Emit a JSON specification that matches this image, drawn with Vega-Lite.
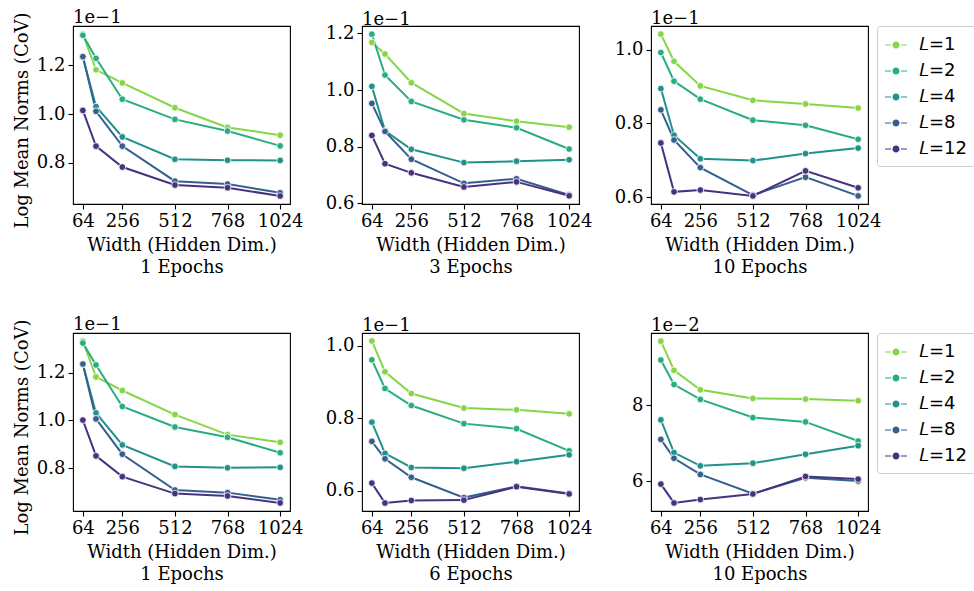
{
  "$schema": "https://vega.github.io/schema/vega-lite/v6.json",
  "autosize": {"type": "pad"},
  "padding": {"left": 12, "top": 8, "right": 0, "bottom": 0},
  "background": "white",
  "config": {
    "font": "DejaVu Serif",
    "view": {"stroke": "black", "strokeWidth": 1.1},
    "axis": {
      "domain": false, "grid": false,
      "tickColor": "black", "tickWidth": 1.1, "tickSize": 5,
      "labelFont": "DejaVu Serif", "labelFontSize": 18, "labelColor": "black",
      "labelPadding": 3,
      "titleFont": "DejaVu Serif", "titleFontSize": 18, "titleFontWeight": "normal", "titleColor": "black",
      "titleLineHeight": 22
    },
    "axisX": {"titlePadding": 6, "format": "d"},
    "axisY": {"titlePadding": 5},
    "title": {"font": "DejaVu Serif", "fontSize": 18, "fontWeight": "normal", "anchor": "start", "frame": "group", "color": "black", "offset": -2},
    "legend": {
      "title": null,
      "labelFont": "DejaVu Sans", "labelFontSize": 18, "labelColor": "black",
      "symbolType": "M-1,-0.055H-0.45V0.055H-1Z M0.32,0A0.32,0.32 0 1,1 -0.32,0A0.32,0.32 0 1,1 0.32,0Z M0.45,-0.055H1V0.055H0.45Z",
      "symbolSize": 484, "symbolStrokeWidth": 0,
      "rowPadding": 6, "padding": 8, "offset": -5,
      "strokeColor": "#cccccc", "cornerRadius": 3, "fillColor": "white",
      "labelOffset": 12
    }
  },
  "datasets": {
    "cov": [
      {"panel": "a", "L": "L=1", "width": 64, "cov": 0.1329}, {"panel": "a", "L": "L=1", "width": 128, "cov": 0.1182}, {"panel": "a", "L": "L=1", "width": 256, "cov": 0.1128}, {"panel": "a", "L": "L=1", "width": 512, "cov": 0.1026}, {"panel": "a", "L": "L=1", "width": 768, "cov": 0.0945}, {"panel": "a", "L": "L=1", "width": 1024, "cov": 0.0913},
      {"panel": "a", "L": "L=2", "width": 64, "cov": 0.1324}, {"panel": "a", "L": "L=2", "width": 128, "cov": 0.1229}, {"panel": "a", "L": "L=2", "width": 256, "cov": 0.1061}, {"panel": "a", "L": "L=2", "width": 512, "cov": 0.0978}, {"panel": "a", "L": "L=2", "width": 768, "cov": 0.0930}, {"panel": "a", "L": "L=2", "width": 1024, "cov": 0.0869},
      {"panel": "a", "L": "L=4", "width": 64, "cov": 0.1235}, {"panel": "a", "L": "L=4", "width": 128, "cov": 0.1031}, {"panel": "a", "L": "L=4", "width": 256, "cov": 0.0906}, {"panel": "a", "L": "L=4", "width": 512, "cov": 0.0814}, {"panel": "a", "L": "L=4", "width": 768, "cov": 0.0810}, {"panel": "a", "L": "L=4", "width": 1024, "cov": 0.0809},
      {"panel": "a", "L": "L=8", "width": 64, "cov": 0.1236}, {"panel": "a", "L": "L=8", "width": 128, "cov": 0.1011}, {"panel": "a", "L": "L=8", "width": 256, "cov": 0.0868}, {"panel": "a", "L": "L=8", "width": 512, "cov": 0.0724}, {"panel": "a", "L": "L=8", "width": 768, "cov": 0.0712}, {"panel": "a", "L": "L=8", "width": 1024, "cov": 0.0676},
      {"panel": "a", "L": "L=12", "width": 64, "cov": 0.1015}, {"panel": "a", "L": "L=12", "width": 128, "cov": 0.0868}, {"panel": "a", "L": "L=12", "width": 256, "cov": 0.0782}, {"panel": "a", "L": "L=12", "width": 512, "cov": 0.0708}, {"panel": "a", "L": "L=12", "width": 768, "cov": 0.0697}, {"panel": "a", "L": "L=12", "width": 1024, "cov": 0.0663},

      {"panel": "b", "L": "L=1", "width": 64, "cov": 0.1168}, {"panel": "b", "L": "L=1", "width": 128, "cov": 0.1127}, {"panel": "b", "L": "L=1", "width": 256, "cov": 0.1026}, {"panel": "b", "L": "L=1", "width": 512, "cov": 0.0917}, {"panel": "b", "L": "L=1", "width": 768, "cov": 0.0890}, {"panel": "b", "L": "L=1", "width": 1024, "cov": 0.0869},
      {"panel": "b", "L": "L=2", "width": 64, "cov": 0.1197}, {"panel": "b", "L": "L=2", "width": 128, "cov": 0.1053}, {"panel": "b", "L": "L=2", "width": 256, "cov": 0.0960}, {"panel": "b", "L": "L=2", "width": 512, "cov": 0.0895}, {"panel": "b", "L": "L=2", "width": 768, "cov": 0.0867}, {"panel": "b", "L": "L=2", "width": 1024, "cov": 0.0792},
      {"panel": "b", "L": "L=4", "width": 64, "cov": 0.1013}, {"panel": "b", "L": "L=4", "width": 128, "cov": 0.0856}, {"panel": "b", "L": "L=4", "width": 256, "cov": 0.0791}, {"panel": "b", "L": "L=4", "width": 512, "cov": 0.0744}, {"panel": "b", "L": "L=4", "width": 768, "cov": 0.0749}, {"panel": "b", "L": "L=4", "width": 1024, "cov": 0.0754},
      {"panel": "b", "L": "L=8", "width": 64, "cov": 0.0953}, {"panel": "b", "L": "L=8", "width": 128, "cov": 0.0854}, {"panel": "b", "L": "L=8", "width": 256, "cov": 0.0756}, {"panel": "b", "L": "L=8", "width": 512, "cov": 0.0671}, {"panel": "b", "L": "L=8", "width": 768, "cov": 0.0687}, {"panel": "b", "L": "L=8", "width": 1024, "cov": 0.0630},
      {"panel": "b", "L": "L=12", "width": 64, "cov": 0.0840}, {"panel": "b", "L": "L=12", "width": 128, "cov": 0.0740}, {"panel": "b", "L": "L=12", "width": 256, "cov": 0.0708}, {"panel": "b", "L": "L=12", "width": 512, "cov": 0.0658}, {"panel": "b", "L": "L=12", "width": 768, "cov": 0.0676}, {"panel": "b", "L": "L=12", "width": 1024, "cov": 0.0627},

      {"panel": "c", "L": "L=1", "width": 64, "cov": 0.1043}, {"panel": "c", "L": "L=1", "width": 128, "cov": 0.0969}, {"panel": "c", "L": "L=1", "width": 256, "cov": 0.0902}, {"panel": "c", "L": "L=1", "width": 512, "cov": 0.0863}, {"panel": "c", "L": "L=1", "width": 768, "cov": 0.0853}, {"panel": "c", "L": "L=1", "width": 1024, "cov": 0.0842},
      {"panel": "c", "L": "L=2", "width": 64, "cov": 0.0993}, {"panel": "c", "L": "L=2", "width": 128, "cov": 0.0915}, {"panel": "c", "L": "L=2", "width": 256, "cov": 0.0866}, {"panel": "c", "L": "L=2", "width": 512, "cov": 0.0809}, {"panel": "c", "L": "L=2", "width": 768, "cov": 0.0795}, {"panel": "c", "L": "L=2", "width": 1024, "cov": 0.0757},
      {"panel": "c", "L": "L=4", "width": 64, "cov": 0.0895}, {"panel": "c", "L": "L=4", "width": 128, "cov": 0.0768}, {"panel": "c", "L": "L=4", "width": 256, "cov": 0.0704}, {"panel": "c", "L": "L=4", "width": 512, "cov": 0.0699}, {"panel": "c", "L": "L=4", "width": 768, "cov": 0.0718}, {"panel": "c", "L": "L=4", "width": 1024, "cov": 0.0733},
      {"panel": "c", "L": "L=8", "width": 64, "cov": 0.0837}, {"panel": "c", "L": "L=8", "width": 128, "cov": 0.0755}, {"panel": "c", "L": "L=8", "width": 256, "cov": 0.0680}, {"panel": "c", "L": "L=8", "width": 512, "cov": 0.0605}, {"panel": "c", "L": "L=8", "width": 768, "cov": 0.0654}, {"panel": "c", "L": "L=8", "width": 1024, "cov": 0.0603},
      {"panel": "c", "L": "L=12", "width": 64, "cov": 0.0747}, {"panel": "c", "L": "L=12", "width": 128, "cov": 0.0614}, {"panel": "c", "L": "L=12", "width": 256, "cov": 0.0619}, {"panel": "c", "L": "L=12", "width": 512, "cov": 0.0603}, {"panel": "c", "L": "L=12", "width": 768, "cov": 0.0671}, {"panel": "c", "L": "L=12", "width": 1024, "cov": 0.0625},

      {"panel": "d", "L": "L=1", "width": 64, "cov": 0.1332}, {"panel": "d", "L": "L=1", "width": 128, "cov": 0.1182}, {"panel": "d", "L": "L=1", "width": 256, "cov": 0.1125}, {"panel": "d", "L": "L=1", "width": 512, "cov": 0.1024}, {"panel": "d", "L": "L=1", "width": 768, "cov": 0.0940}, {"panel": "d", "L": "L=1", "width": 1024, "cov": 0.0908},
      {"panel": "d", "L": "L=2", "width": 64, "cov": 0.1324}, {"panel": "d", "L": "L=2", "width": 128, "cov": 0.1232}, {"panel": "d", "L": "L=2", "width": 256, "cov": 0.1058}, {"panel": "d", "L": "L=2", "width": 512, "cov": 0.0972}, {"panel": "d", "L": "L=2", "width": 768, "cov": 0.0929}, {"panel": "d", "L": "L=2", "width": 1024, "cov": 0.0864},
      {"panel": "d", "L": "L=4", "width": 64, "cov": 0.1235}, {"panel": "d", "L": "L=4", "width": 128, "cov": 0.1031}, {"panel": "d", "L": "L=4", "width": 256, "cov": 0.0897}, {"panel": "d", "L": "L=4", "width": 512, "cov": 0.0807}, {"panel": "d", "L": "L=4", "width": 768, "cov": 0.0801}, {"panel": "d", "L": "L=4", "width": 1024, "cov": 0.0803},
      {"panel": "d", "L": "L=8", "width": 64, "cov": 0.1236}, {"panel": "d", "L": "L=8", "width": 128, "cov": 0.1006}, {"panel": "d", "L": "L=8", "width": 256, "cov": 0.0858}, {"panel": "d", "L": "L=8", "width": 512, "cov": 0.0708}, {"panel": "d", "L": "L=8", "width": 768, "cov": 0.0697}, {"panel": "d", "L": "L=8", "width": 1024, "cov": 0.0667},
      {"panel": "d", "L": "L=12", "width": 64, "cov": 0.1001}, {"panel": "d", "L": "L=12", "width": 128, "cov": 0.0851}, {"panel": "d", "L": "L=12", "width": 256, "cov": 0.0764}, {"panel": "d", "L": "L=12", "width": 512, "cov": 0.0693}, {"panel": "d", "L": "L=12", "width": 768, "cov": 0.0683}, {"panel": "d", "L": "L=12", "width": 1024, "cov": 0.0654},

      {"panel": "e", "L": "L=1", "width": 64, "cov": 0.1013}, {"panel": "e", "L": "L=1", "width": 128, "cov": 0.0928}, {"panel": "e", "L": "L=1", "width": 256, "cov": 0.0868}, {"panel": "e", "L": "L=1", "width": 512, "cov": 0.0828}, {"panel": "e", "L": "L=1", "width": 768, "cov": 0.0823}, {"panel": "e", "L": "L=1", "width": 1024, "cov": 0.0812},
      {"panel": "e", "L": "L=2", "width": 64, "cov": 0.0961}, {"panel": "e", "L": "L=2", "width": 128, "cov": 0.0882}, {"panel": "e", "L": "L=2", "width": 256, "cov": 0.0835}, {"panel": "e", "L": "L=2", "width": 512, "cov": 0.0785}, {"panel": "e", "L": "L=2", "width": 768, "cov": 0.0771}, {"panel": "e", "L": "L=2", "width": 1024, "cov": 0.0710},
      {"panel": "e", "L": "L=4", "width": 64, "cov": 0.0789}, {"panel": "e", "L": "L=4", "width": 128, "cov": 0.0703}, {"panel": "e", "L": "L=4", "width": 256, "cov": 0.0664}, {"panel": "e", "L": "L=4", "width": 512, "cov": 0.0662}, {"panel": "e", "L": "L=4", "width": 768, "cov": 0.0680}, {"panel": "e", "L": "L=4", "width": 1024, "cov": 0.0699},
      {"panel": "e", "L": "L=8", "width": 64, "cov": 0.0736}, {"panel": "e", "L": "L=8", "width": 128, "cov": 0.0688}, {"panel": "e", "L": "L=8", "width": 256, "cov": 0.0637}, {"panel": "e", "L": "L=8", "width": 512, "cov": 0.0581}, {"panel": "e", "L": "L=8", "width": 768, "cov": 0.0612}, {"panel": "e", "L": "L=8", "width": 1024, "cov": 0.0592},
      {"panel": "e", "L": "L=12", "width": 64, "cov": 0.0621}, {"panel": "e", "L": "L=12", "width": 128, "cov": 0.0566}, {"panel": "e", "L": "L=12", "width": 256, "cov": 0.0573}, {"panel": "e", "L": "L=12", "width": 512, "cov": 0.0574}, {"panel": "e", "L": "L=12", "width": 768, "cov": 0.0611}, {"panel": "e", "L": "L=12", "width": 1024, "cov": 0.0591},

      {"panel": "f", "L": "L=1", "width": 64, "cov": 0.09694}, {"panel": "f", "L": "L=1", "width": 128, "cov": 0.08926}, {"panel": "f", "L": "L=1", "width": 256, "cov": 0.08411}, {"panel": "f", "L": "L=1", "width": 512, "cov": 0.08183}, {"panel": "f", "L": "L=1", "width": 768, "cov": 0.08166}, {"panel": "f", "L": "L=1", "width": 1024, "cov": 0.08122},
      {"panel": "f", "L": "L=2", "width": 64, "cov": 0.09197}, {"panel": "f", "L": "L=2", "width": 128, "cov": 0.08550}, {"panel": "f", "L": "L=2", "width": 256, "cov": 0.08157}, {"panel": "f", "L": "L=2", "width": 512, "cov": 0.07677}, {"panel": "f", "L": "L=2", "width": 768, "cov": 0.07563}, {"panel": "f", "L": "L=2", "width": 1024, "cov": 0.07057},
      {"panel": "f", "L": "L=4", "width": 64, "cov": 0.07616}, {"panel": "f", "L": "L=4", "width": 128, "cov": 0.06751}, {"panel": "f", "L": "L=4", "width": 256, "cov": 0.06402}, {"panel": "f", "L": "L=4", "width": 512, "cov": 0.06472}, {"panel": "f", "L": "L=4", "width": 768, "cov": 0.06707}, {"panel": "f", "L": "L=4", "width": 1024, "cov": 0.06934},
      {"panel": "f", "L": "L=8", "width": 64, "cov": 0.07100}, {"panel": "f", "L": "L=8", "width": 128, "cov": 0.06603}, {"panel": "f", "L": "L=8", "width": 256, "cov": 0.06175}, {"panel": "f", "L": "L=8", "width": 512, "cov": 0.05668}, {"panel": "f", "L": "L=8", "width": 768, "cov": 0.06087}, {"panel": "f", "L": "L=8", "width": 1024, "cov": 0.06000},
      {"panel": "f", "L": "L=12", "width": 64, "cov": 0.05921}, {"panel": "f", "L": "L=12", "width": 128, "cov": 0.05423}, {"panel": "f", "L": "L=12", "width": 256, "cov": 0.05511}, {"panel": "f", "L": "L=12", "width": 512, "cov": 0.05659}, {"panel": "f", "L": "L=12", "width": 768, "cov": 0.06122}, {"panel": "f", "L": "L=12", "width": 1024, "cov": 0.06052}
    ]
  },
  "vconcat": [
    {
      "spacing": 72,
      "bounds": "flush",
      "hconcat": [
        {
          "width": 217, "height": 178,
          "title": {"text": "1e\u22121", "dy": 13},
          "data": {"name": "cov"},
          "transform": [{"filter": "datum.panel == 'a'"}],
          "encoding": {
            "x": {"field": "width", "type": "quantitative", "scale": {"domain": [16, 1072], "nice": false, "zero": false}, "axis": {"values": [64, 256, 512, 768, 1024], "title": ["Width (Hidden Dim.)", "1 Epochs"]}},
            "y": {"field": "cov", "type": "quantitative", "scale": {"domain": [0.0630, 0.1362], "nice": false, "zero": false}, "axis": {"values": [0.08, 0.10, 0.12], "labelExpr": "format(datum.value * 10, '.1f')", "title": "Log Mean Norms (CoV)", "titleY": 94}},
            "color": {"field": "L", "type": "nominal", "scale": {"domain": ["L=1", "L=2", "L=4", "L=8", "L=12"], "range": ["#86d549", "#27ad81", "#21918c", "#355f8d", "#46327e"]}, "legend": {"labelExpr": "'\ud835\udc3f' + slice(datum.label, 1)"}}
          },
          "layer": [
            {"mark": {"type": "line", "strokeWidth": 2}},
            {"mark": {"type": "point", "filled": true, "size": 45, "opacity": 1, "stroke": "white", "strokeWidth": 0.8}}
          ]
        },
        {
          "width": 217, "height": 178,
          "title": {"text": "1e\u22121", "dy": 3},
          "data": {"name": "cov"},
          "transform": [{"filter": "datum.panel == 'b'"}],
          "encoding": {
            "x": {"field": "width", "type": "quantitative", "scale": {"domain": [16, 1072], "nice": false, "zero": false}, "axis": {"values": [64, 256, 512, 768, 1024], "title": ["Width (Hidden Dim.)", "3 Epochs"]}},
            "y": {"field": "cov", "type": "quantitative", "scale": {"domain": [0.0598, 0.1226], "nice": false, "zero": false}, "axis": {"values": [0.06, 0.08, 0.10, 0.12], "labelExpr": "format(datum.value * 10, '.1f')", "title": null}},
            "color": {"field": "L", "type": "nominal", "scale": {"domain": ["L=1", "L=2", "L=4", "L=8", "L=12"], "range": ["#86d549", "#27ad81", "#21918c", "#355f8d", "#46327e"]}, "legend": {"labelExpr": "'\ud835\udc3f' + slice(datum.label, 1)"}}
          },
          "layer": [
            {"mark": {"type": "line", "strokeWidth": 2}},
            {"mark": {"type": "point", "filled": true, "size": 45, "opacity": 1, "stroke": "white", "strokeWidth": 0.8}}
          ]
        },
        {
          "width": 217, "height": 178,
          "title": {"text": "1e\u22121"},
          "data": {"name": "cov"},
          "transform": [{"filter": "datum.panel == 'c'"}],
          "encoding": {
            "x": {"field": "width", "type": "quantitative", "scale": {"domain": [16, 1072], "nice": false, "zero": false}, "axis": {"values": [64, 256, 512, 768, 1024], "title": ["Width (Hidden Dim.)", "10 Epochs"]}},
            "y": {"field": "cov", "type": "quantitative", "scale": {"domain": [0.0581, 0.1065], "nice": false, "zero": false}, "axis": {"values": [0.06, 0.08, 0.10], "labelExpr": "format(datum.value * 10, '.1f')", "title": null}},
            "color": {"field": "L", "type": "nominal", "scale": {"domain": ["L=1", "L=2", "L=4", "L=8", "L=12"], "range": ["#86d549", "#27ad81", "#21918c", "#355f8d", "#46327e"]}, "legend": {"labelExpr": "'\ud835\udc3f' + slice(datum.label, 1)"}}
          },
          "layer": [
            {"mark": {"type": "line", "strokeWidth": 2}},
            {"mark": {"type": "point", "filled": true, "size": 45, "opacity": 1, "stroke": "white", "strokeWidth": 0.8}}
          ]
        }
      ]
    },
    {
      "spacing": 72,
      "bounds": "flush",
      "hconcat": [
        {
          "width": 217, "height": 178,
          "title": {"text": "1e\u22121", "dy": 13},
          "data": {"name": "cov"},
          "transform": [{"filter": "datum.panel == 'd'"}],
          "encoding": {
            "x": {"field": "width", "type": "quantitative", "scale": {"domain": [16, 1072], "nice": false, "zero": false}, "axis": {"values": [64, 256, 512, 768, 1024], "title": ["Width (Hidden Dim.)", "1 Epochs"]}},
            "y": {"field": "cov", "type": "quantitative", "scale": {"domain": [0.0620, 0.1366], "nice": false, "zero": false}, "axis": {"values": [0.08, 0.10, 0.12], "labelExpr": "format(datum.value * 10, '.1f')", "title": "Log Mean Norms (CoV)", "titleY": 94}},
            "color": {"field": "L", "type": "nominal", "scale": {"domain": ["L=1", "L=2", "L=4", "L=8", "L=12"], "range": ["#86d549", "#27ad81", "#21918c", "#355f8d", "#46327e"]}, "legend": {"labelExpr": "'\ud835\udc3f' + slice(datum.label, 1)"}}
          },
          "layer": [
            {"mark": {"type": "line", "strokeWidth": 2}},
            {"mark": {"type": "point", "filled": true, "size": 45, "opacity": 1, "stroke": "white", "strokeWidth": 0.8}}
          ]
        },
        {
          "width": 217, "height": 178,
          "title": {"text": "1e\u22121"},
          "data": {"name": "cov"},
          "transform": [{"filter": "datum.panel == 'e'"}],
          "encoding": {
            "x": {"field": "width", "type": "quantitative", "scale": {"domain": [16, 1072], "nice": false, "zero": false}, "axis": {"values": [64, 256, 512, 768, 1024], "title": ["Width (Hidden Dim.)", "6 Epochs"]}},
            "y": {"field": "cov", "type": "quantitative", "scale": {"domain": [0.0544, 0.1035], "nice": false, "zero": false}, "axis": {"values": [0.06, 0.08, 0.10], "labelExpr": "format(datum.value * 10, '.1f')", "title": null}},
            "color": {"field": "L", "type": "nominal", "scale": {"domain": ["L=1", "L=2", "L=4", "L=8", "L=12"], "range": ["#86d549", "#27ad81", "#21918c", "#355f8d", "#46327e"]}, "legend": {"labelExpr": "'\ud835\udc3f' + slice(datum.label, 1)"}}
          },
          "layer": [
            {"mark": {"type": "line", "strokeWidth": 2}},
            {"mark": {"type": "point", "filled": true, "size": 45, "opacity": 1, "stroke": "white", "strokeWidth": 0.8}}
          ]
        },
        {
          "width": 217, "height": 178,
          "title": {"text": "1e\u22122"},
          "data": {"name": "cov"},
          "transform": [{"filter": "datum.panel == 'f'"}],
          "encoding": {
            "x": {"field": "width", "type": "quantitative", "scale": {"domain": [16, 1072], "nice": false, "zero": false}, "axis": {"values": [64, 256, 512, 768, 1024], "title": ["Width (Hidden Dim.)", "10 Epochs"]}},
            "y": {"field": "cov", "type": "quantitative", "scale": {"domain": [0.0521, 0.0991], "nice": false, "zero": false}, "axis": {"values": [0.06, 0.08], "labelExpr": "format(datum.value * 100, '.0f')", "title": null}},
            "color": {"field": "L", "type": "nominal", "scale": {"domain": ["L=1", "L=2", "L=4", "L=8", "L=12"], "range": ["#86d549", "#27ad81", "#21918c", "#355f8d", "#46327e"]}, "legend": {"labelExpr": "'\ud835\udc3f' + slice(datum.label, 1)"}}
          },
          "layer": [
            {"mark": {"type": "line", "strokeWidth": 2}},
            {"mark": {"type": "point", "filled": true, "size": 45, "opacity": 1, "stroke": "white", "strokeWidth": 0.8}}
          ]
        }
      ]
    }
  ],
  "spacing": 38,
  "resolve": {"scale": {"color": "independent"}}
}
